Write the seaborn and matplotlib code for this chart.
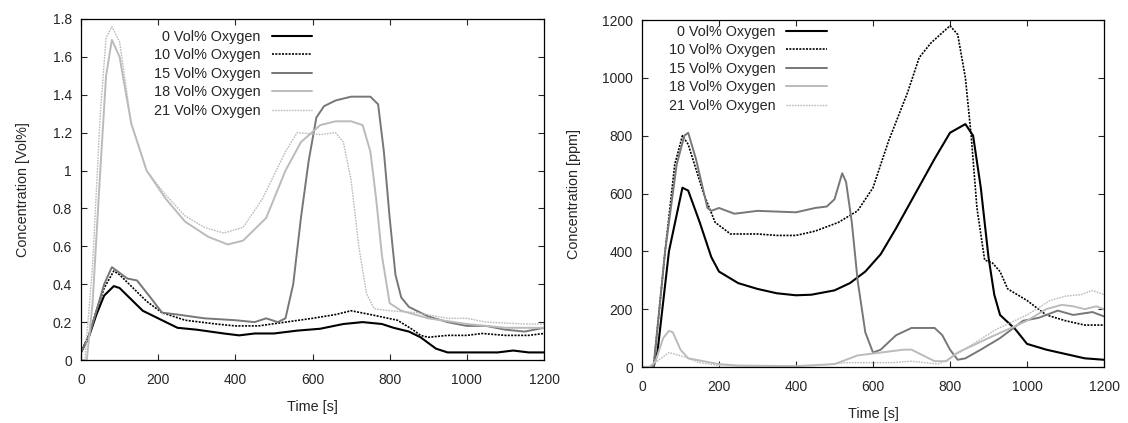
import numpy as np
import pandas as pd
import matplotlib
matplotlib.use("Agg")
import matplotlib.pyplot as plt
import seaborn as sns
from matplotlib.ticker import FuncFormatter

sns.set_style("ticks")
plt.rcParams['font.family'] = ['Liberation Sans', 'DejaVu Sans']

labels = ["0 Vol% Oxygen", "10 Vol% Oxygen", "15 Vol% Oxygen", "18 Vol% Oxygen", "21 Vol% Oxygen"]

# ---- Left panel: concentration [Vol%] ----
l0_t = [0, 20, 40, 60, 85, 100, 120, 160, 200, 250, 300, 370, 410, 450, 500, 560, 620, 680, 730, 780, 810, 850, 880, 920, 950, 1000, 1080, 1120, 1160, 1200]
l0_v = [0.04, 0.12, 0.24, 0.34, 0.39, 0.38, 0.34, 0.26, 0.22, 0.17, 0.16, 0.14, 0.13, 0.14, 0.14, 0.155, 0.165, 0.19, 0.2, 0.19, 0.17, 0.15, 0.12, 0.06, 0.04, 0.04, 0.04, 0.05, 0.04, 0.04]

l10_t = [0, 20, 40, 60, 85, 100, 130, 170, 210, 270, 350, 400, 460, 530, 600, 660, 700, 750, 820, 860, 880, 900, 950, 1000, 1040, 1100, 1160, 1200]
l10_v = [0.04, 0.13, 0.26, 0.38, 0.47, 0.45, 0.39, 0.31, 0.25, 0.21, 0.19, 0.18, 0.18, 0.2, 0.22, 0.24, 0.26, 0.24, 0.21, 0.16, 0.13, 0.12, 0.13, 0.13, 0.14, 0.13, 0.13, 0.14]

l15_t = [0, 20, 40, 60, 80, 100, 120, 145, 180, 210, 250, 320, 400, 450, 480, 510, 530, 550, 570, 590, 610, 630, 660, 700, 750, 770, 785, 800, 815, 830, 850, 900, 950, 1000, 1050, 1100, 1150, 1200]
l15_v = [0.04, 0.12, 0.26, 0.4, 0.49, 0.46, 0.43, 0.42, 0.33, 0.25, 0.24, 0.22, 0.21, 0.2, 0.22, 0.2, 0.22, 0.4, 0.75, 1.05, 1.28, 1.34, 1.37, 1.39, 1.39, 1.35, 1.1, 0.75, 0.45, 0.33, 0.28, 0.23, 0.2, 0.18, 0.18, 0.16, 0.15, 0.17]

l18_t = [0, 15, 30, 50, 65, 80, 100, 130, 170, 220, 270, 330, 380, 420, 480, 530, 570, 620, 660, 700, 730, 750, 765, 780, 800, 830, 900, 1000, 1100, 1200]
l18_v = [0.0, 0.0, 0.3, 1.0, 1.5, 1.69, 1.6, 1.25, 1.0, 0.85, 0.73, 0.65, 0.61, 0.63, 0.75, 1.0, 1.15, 1.24, 1.26, 1.26, 1.24, 1.1, 0.85, 0.55, 0.3, 0.26, 0.22, 0.19, 0.17, 0.17]

l21_t = [0, 10, 30, 50, 65, 80, 100, 130, 170, 220, 270, 320, 370, 420, 470, 530, 560, 620, 660, 680, 700, 720, 740, 760, 800, 870, 950, 1000, 1050, 1150, 1200]
l21_v = [0.0, 0.0, 0.5, 1.3, 1.7, 1.76, 1.68, 1.25, 1.0, 0.87, 0.76, 0.7, 0.67, 0.7, 0.85, 1.1, 1.2, 1.19, 1.2, 1.15, 0.95, 0.6, 0.35, 0.27, 0.26, 0.25, 0.22, 0.22, 0.2, 0.19, 0.19]

# ---- Right panel: concentration [ppm] ----
r0_t = [0, 30, 40, 70, 105, 120, 150, 180, 200, 250, 300, 350, 400, 440, 500, 540, 580, 620, 660, 710, 760, 800, 840, 860, 880, 900, 915, 930, 970, 1000, 1050, 1100, 1150, 1200]
r0_v = [0, 0, 50, 400, 620, 610, 500, 380, 330, 290, 270, 255, 248, 250, 265, 290, 330, 390, 480, 600, 720, 810, 840, 800, 620, 380, 250, 180, 130, 80, 60, 45, 30, 25]

r10_t = [0, 30, 60, 85, 105, 120, 160, 190, 230, 300, 350, 400, 450, 510, 560, 600, 640, 690, 720, 750, 800, 820, 840, 855, 870, 890, 910, 930, 950, 1000, 1050, 1100, 1150, 1200]
r10_v = [0, 0, 400, 700, 800, 770, 600, 500, 460, 460, 455, 455, 470, 500, 540, 620, 780, 950, 1070, 1120, 1180, 1150, 1000, 800, 550, 370, 360, 330, 270, 230, 180, 160, 145, 145]

r15_t = [0, 30, 60, 90, 110, 120, 140, 170, 180, 200, 240, 300, 400, 450, 480, 500, 520, 530, 545, 560, 580, 600, 620, 660, 700, 760, 780, 800, 820, 840, 880, 930, 990, 1030, 1080, 1120, 1170, 1200]
r15_v = [0, 0, 400, 700, 800, 810, 720, 550, 540, 550, 530, 540, 535, 550, 555, 580, 670, 640, 500, 300, 120, 50, 60, 110, 135, 135, 110, 60, 25, 30, 60, 100, 160, 170, 195, 180, 190, 175]

r18_t = [0, 20, 35, 55, 70, 80, 100, 120, 160, 200, 250, 400, 500, 560, 620, 680, 700, 730, 760, 790, 820, 900, 1000, 1050, 1090, 1120, 1150, 1180, 1200]
r18_v = [0, 0, 20, 100, 125, 120, 60, 30, 20, 10, 5, 3, 10, 40, 50, 60, 60, 40, 20, 20, 50, 100, 160, 200, 215, 210, 200, 210, 200]

r21_t = [0, 20, 40, 70, 110, 150, 200, 300, 450, 530, 650, 700, 770, 800, 860, 920, 1000, 1060, 1100, 1140, 1170, 1200]
r21_v = [0, 0, 20, 50, 35, 15, 5, 2, 5, 15, 15, 20, 10, 30, 80, 130, 180, 230, 245, 250, 265, 250]

left_series = [(l0_t, l0_v), (l10_t, l10_v), (l15_t, l15_v), (l18_t, l18_v), (l21_t, l21_v)]
right_series = [(r0_t, r0_v), (r10_t, r10_v), (r15_t, r15_v), (r18_t, r18_v), (r21_t, r21_v)]

colors = ["#000000", "#000000", "#777777", "#bbbbbb", "#bbbbbb"]
styles = ["-", (0, (1.2, 0.8)), "-", "-", (0, (1.2, 0.8))]
widths = [1.5, 1.2, 1.4, 1.4, 1.0]

fig = plt.figure(figsize=(11.28, 4.23), dpi=100)
axL = fig.add_axes([81 / 1128, 1 - 360 / 423, 463 / 1128, 341 / 423])
axR = fig.add_axes([642 / 1128, 1 - 367 / 423, 462 / 1128, 347 / 423])


def draw(ax, series):
    for (t, v), lab, c, ls, lw in zip(series, labels, colors, styles, widths):
        df = pd.DataFrame({"t": t, "v": v})
        sns.lineplot(data=df, x="t", y="v", ax=ax, color=c, linestyle=ls, linewidth=lw, label=lab)
    ax.set_xlim(0, 1200)
    ax.set_xticks(range(0, 1201, 200))
    ax.tick_params(direction="in", top=True, right=True, labelsize=10, length=4, width=0.8)
    ax.tick_params(axis="x", pad=9)
    ax.tick_params(axis="y", pad=6.5)
    for s in ax.spines.values():
        s.set_linewidth(0.9)
        s.set_color("black")
    ax.set_xlabel("Time [s]", fontsize=10.4, labelpad=10)


draw(axL, left_series)
axL.set_ylim(0, 1.8)
axL.set_yticks(np.arange(0, 1.81, 0.2))
axL.yaxis.set_major_formatter(FuncFormatter(lambda v, p: ("%g" % round(v, 1))))
axL.set_ylabel("Concentration [Vol%]", fontsize=10.4, labelpad=16.5)

draw(axR, right_series)
axR.set_ylim(0, 1200)
axR.set_yticks(range(0, 1201, 200))
axR.set_ylabel("Concentration [ppm]", fontsize=10.4, labelpad=15)

for ax, anchor in [(axL, (0.499, 0.968)), (axR, (0.400, 0.986))]:
    leg = ax.legend(loc="upper right", bbox_to_anchor=anchor, frameon=False, markerfirst=False,
                    fontsize=10.4, handlelength=2.8, labelspacing=0.31, handletextpad=0.75,
                    borderaxespad=0, borderpad=0)
    for txt in leg.get_texts():
        txt.set_ha("right")
    leg._legend_box.align = "right"

fig.savefig("out.png", dpi=100)
